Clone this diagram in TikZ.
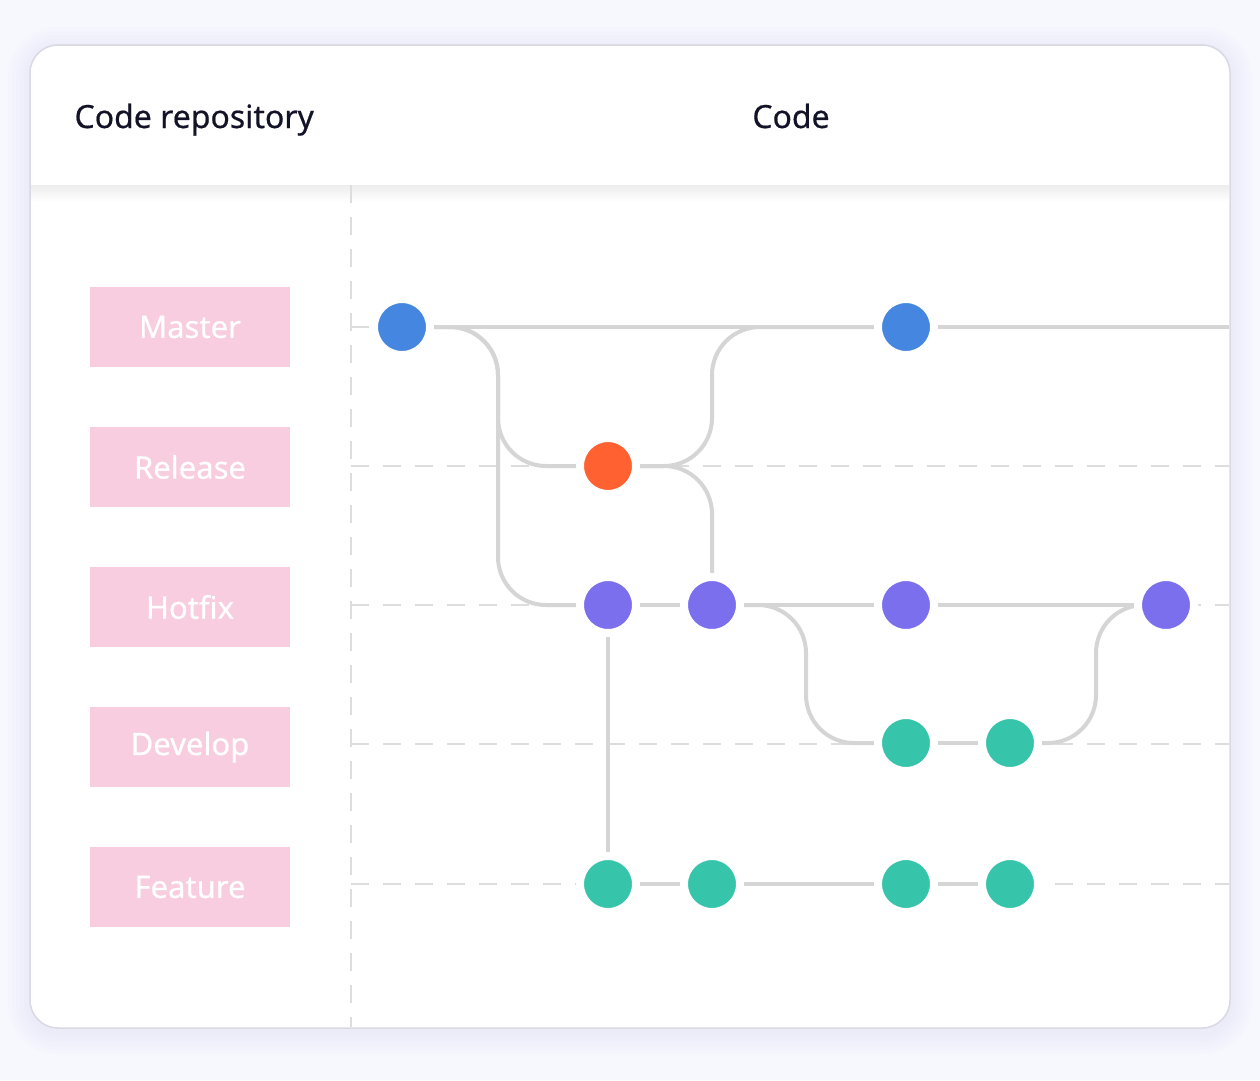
\documentclass[tikz,border=0pt]{standalone}
\usepackage{fontspec}
\setmainfont{Noto Sans}
\newfontfamily\medfont{Noto Sans}[FakeBold=0.5]
\definecolor{pagebg}{HTML}{F7F8FE}
\definecolor{glow}{HTML}{E6E6F8}
\definecolor{cardline}{HTML}{D9D9E3}
\definecolor{inkdark}{HTML}{131328}
\definecolor{branchpink}{HTML}{F8CDE0}
\definecolor{wiregray}{HTML}{D5D5D5}
\definecolor{guidegray}{HTML}{DDDDDD}
\definecolor{mblue}{HTML}{4587E0}
\definecolor{rorange}{HTML}{FF6230}
\definecolor{hpurple}{HTML}{7B6FEE}
\definecolor{fteal}{HTML}{36C4AA}
\pgfdeclarelayer{back}
\pgfdeclarelayer{wires}
\pgfsetlayers{back,wires,main}
\tikzset{
  commit/.style={circle, fill=#1, draw=white, line width=8pt, minimum size=56pt, inner sep=0pt},
  wire/.style={draw=wiregray, line width=4pt, rounded corners=48pt},
  guide/.style={draw=guidegray, line width=2pt, dash pattern=on 18pt off 14pt},
  branch/.style={fill=branchpink, minimum width=200pt, minimum height=80pt, inner sep=0pt,
    text=white, font=\medfont\fontsize{31}{36}\selectfont},
  heading/.style={text=inkdark, font=\medfont\fontsize{32}{38}\selectfont},
}
\begin{document}
\begin{tikzpicture}[x=1pt, y=-1pt]
  \useasboundingbox (0,0) rectangle (1260,1080);
  \begin{pgfonlayer}{back}
    \fill[pagebg] (0,0) rectangle (1260,1080);
    % soft glow round the card
    \foreach \s in {22,18,...,2}{
      \fill[glow, opacity=0.12, rounded corners=28pt+\s pt] (30-\s,45-\s+4) rectangle (1230+\s,1028+\s+4);
    }
    \draw[fill=white, draw=cardline, line width=1.5pt, rounded corners=28pt] (30,45) rectangle (1230,1028);
    \shade[top color=black!7, bottom color=white] (31,185) rectangle (1229,202);
    \draw[guide] (351,185) -- (351,1027);
    \foreach \y in {327,466,605,744,884}{
      \draw[guide] (351,\y) -- (1229,\y);
    }
  \end{pgfonlayer}

  \node[heading, anchor=base west] (hrepo) at (71,128) {Code repository};
  \node[heading, anchor=base] (hcode) at (791,128) {Code};

  \foreach \name/\y in {Master/327, Release/467, Hotfix/607, Develop/747, Feature/887}{
    \node[branch] (lbl\name) at (190,\y) {\name};
  }

  \foreach \n/\x/\y/\c in {m1/402/327/mblue, m2/906/327/mblue, r1/608/466/rorange,
      h1/608/605/hpurple, h2/712/605/hpurple, h3/906/605/hpurple, h4/1166/605/hpurple,
      d1/906/743/fteal, d2/1010/743/fteal,
      f1/608/884/fteal, f2/712/884/fteal, f3/906/884/fteal, f4/1010/884/fteal}{
    \node[commit=\c] (\n) at (\x,\y) {};
  }
  \coordinate (mend) at (1229,327);

  \begin{pgfonlayer}{wires}
    \draw[wire] (m1.center) -- (m2.center) -- (mend);
    \draw[wire] (m1.center) -- ++(96,0) |- (h1.center);
    \draw[wire] (m1.center) -- ++(96,0) |- (r1.center);
    \draw[wire] (r1.center) -- ++(104,0) |- (m2.center);
    \draw[wire] (r1.center) -| (h2.center);
    \draw[wire] (h1.center) -- (h2.center) -- (h3.center) -- (h4.center);
    \draw[wire] (h2.center) -- ++(94,0) |- (d1.center);
    \draw[wire] (d1.center) -- (d2.center);
    \draw[wire] (d2.center) -- ++(86,0) |- (h4.center);
    \draw[wire] (h1.center) -- (f1.center);
    \draw[wire] (f1.center) -- (f2.center) -- (f3.center) -- (f4.center);
  \end{pgfonlayer}
\end{tikzpicture}
\end{document}
